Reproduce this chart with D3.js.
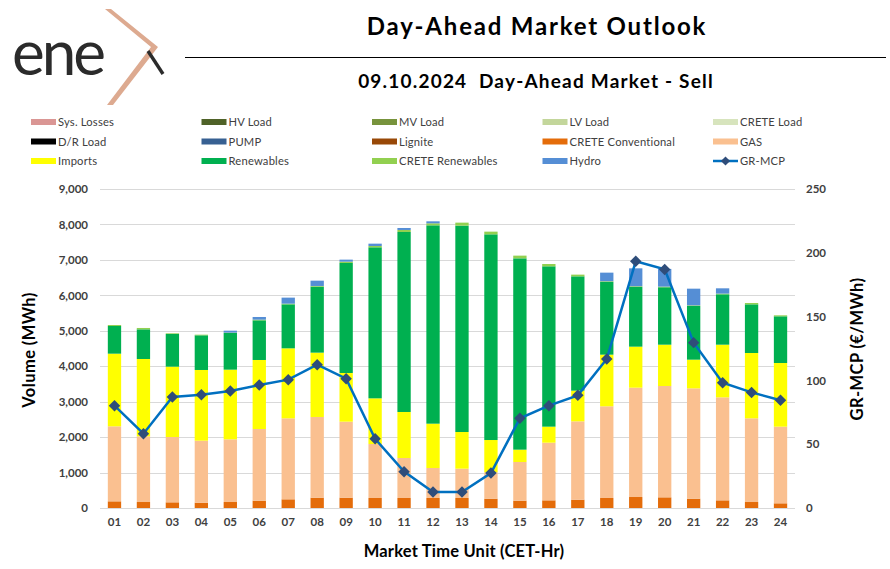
<!DOCTYPE html>
<html>
<head>
<meta charset="utf-8">
<script src="https://cdn.jsdelivr.net/npm/d3@7"></script>
<style>
  html, body { margin: 0; padding: 0; background: #fff; }
  svg { display: block; }
  text { font-family: "Lato", "DejaVu Sans", sans-serif; }
</style>
</head>
<body>
<svg id="chart" width="890" height="569"></svg>
<script>
// ---------- DATA ----------
const hours = ["01","02","03","04","05","06","07","08","09","10","11","12",
               "13","14","15","16","17","18","19","20","21","22","23","24"];
const creteConventional = [188,169,160,150,169,207,245,292,292,282,282,282,
                           282,263,207,216,235,282,310,301,263,216,169,132];
const gas        = [2116,1853,1843,1750,1768,2022,2285,2276,2144,1524,1129,847,
                    828,743,1091,1627,2210,2587,3085,3141,3113,2906,2361,2163];
const imports    = [2050,2182,1985,1994,1966,1947,1975,1815,1373,1288,1298,1250,
                    1034,912,348,452,866,1457,1157,1166,809,1486,1843,1796];
const renewables = [781,837,921,978,1035,1119,1241,1862,3104,4261,5078,5596,
                    5822,5803,5398,4524,3225,2051,1684,1620,1514,1421,1373,1317];
const creteRenewables = [28,38,19,18,10,19,19,19,37,37,57,57,
                         85,76,76,65,48,20,20,18,18,20,38,28];
const hydro      = [0,0,0,0,55,75,170,150,57,66,56,56,
                    0,0,0,0,0,243,506,500,471,149,0,0];
const grMcp      = [80.2,58.2,87.0,88.8,91.7,96.4,100.6,112.3,101.3,54.3,28.5,12.5,
                    12.5,27.4,70.3,80.2,88.3,116.8,193.3,187.0,129.6,98.2,90.6,84.4];
const volumeTicks = [0,1000,2000,3000,4000,5000,6000,7000,8000,9000];
const priceTicks  = [0,50,100,150,200,250];
const legendLabels = ["Sys. Losses","HV Load","MV Load","LV Load","CRETE Load",
                      "D/R Load","PUMP","Lignite","CRETE Conventional","GAS",
                      "Imports","Renewables","CRETE Renewables","Hydro","GR-MCP"];
const legendColors = ["#DA9694","#4F6228","#77933C","#C3D69B","#D7E4BD",
                      "#000000","#376092","#984807","#E46C0A","#FAC090",
                      "#FFFF00","#00B050","#92D050","#558ED5","#0070C0"];

// ---------- SETUP ----------
const svg = d3.select("#chart");
const textCol = "#404040";
const markerCol = "#2F4D7A";

// Logo
const logo = svg.append("g");
logo.append("text").attr("x", 12).attr("y", 75)
  .attr("font-family", "'Lato', sans-serif").attr("font-weight", 400)
  .attr("font-size", 62).attr("fill", "#2b2b2b").attr("letter-spacing", -3)
  .text("ene");
logo.append("path")
  .attr("d", "M105,9 L111,9 L158,47 L113,105 L107,105 L151,47 Z")
  .attr("fill", "#DDAA90");
logo.append("line").attr("x1", 148).attr("y1", 51).attr("x2", 163).attr("y2", 74)
  .attr("stroke", "#2b2b2b").attr("stroke-width", 3.4);

// Titles
svg.append("text").attr("x", 537).attr("y", 35).attr("text-anchor", "middle")
  .attr("font-size", 24).attr("font-weight", 700).attr("fill", "#000")
  .attr("letter-spacing", 1.8)
  .text("Day-Ahead Market Outlook");
svg.append("line").attr("x1", 185).attr("x2", 886).attr("y1", 57.5).attr("y2", 57.5)
  .attr("stroke", "#000").attr("stroke-width", 1.2);
svg.append("text").attr("x", 536).attr("y", 88).attr("text-anchor", "middle")
  .attr("font-size", 19).attr("font-weight", 700).attr("fill", "#000")
  .attr("letter-spacing", 1.2).attr("xml:space", "preserve")
  .text("09.10.2024  Day-Ahead Market - Sell");

// Legend
const leg = svg.append("g");
legendLabels.forEach((lab, i) => {
  const col = i % 5, row = Math.floor(i / 5);
  const x = 31 + col * 170.5, y = 122 + row * 19.5;
  if (lab === "GR-MCP") {
    leg.append("line").attr("x1", x).attr("x2", x + 25).attr("y1", y).attr("y2", y)
      .attr("stroke", legendColors[i]).attr("stroke-width", 2.5);
    leg.append("path").attr("d", d3.symbol(d3.symbolSquare, 42)())
      .attr("transform", `translate(${x + 12.5},${y}) rotate(45)`).attr("fill", markerCol);
  } else {
    leg.append("rect").attr("x", x).attr("y", y - 3).attr("width", 25).attr("height", 6)
      .attr("fill", legendColors[i]);
  }
  leg.append("text").attr("x", x + 27).attr("y", y + 4)
    .attr("font-size", 11.2).attr("fill", textCol).attr("letter-spacing", 0.2).text(lab);
});

// Scales
const x = d3.scaleBand().domain(hours).range([100, 795]).paddingInner(0.54).paddingOuter(0.27);
const yL = d3.scaleLinear().domain([0, 9000]).range([508, 189]);
const yR = d3.scaleLinear().domain([0, 250]).range([508, 189]);

// Gridlines
svg.append("g").selectAll("line").data(volumeTicks).join("line")
  .attr("x1", 100).attr("x2", 795)
  .attr("y1", d => Math.round(yL(d)) + 0.5).attr("y2", d => Math.round(yL(d)) + 0.5)
  .attr("stroke", "#D9D9D9").attr("stroke-width", 1);

// Stacked bars
const seriesDefs = [
  {key: "CRETE Conventional", vals: creteConventional, color: "#E46C0A"},
  {key: "GAS", vals: gas, color: "#FAC090"},
  {key: "Imports", vals: imports, color: "#FFFF00"},
  {key: "Renewables", vals: renewables, color: "#00B050"},
  {key: "CRETE Renewables", vals: creteRenewables, color: "#92D050"},
  {key: "Hydro", vals: hydro, color: "#558ED5"}
];
const table = hours.map((h, i) => {
  const o = {hour: h};
  seriesDefs.forEach(s => o[s.key] = s.vals[i]);
  return o;
});
const stacked = d3.stack().keys(seriesDefs.map(s => s.key))(table);
svg.append("g").selectAll("g").data(stacked).join("g")
  .attr("fill", (d, i) => seriesDefs[i].color)
  .selectAll("rect").data(d => d).join("rect")
  .attr("x", d => x(d.data.hour))
  .attr("width", x.bandwidth())
  .attr("y", d => yL(d[1]))
  .attr("height", d => yL(d[0]) - yL(d[1]));

// Line
const cx = h => x(h) + x.bandwidth() / 2;
svg.append("path").datum(grMcp)
  .attr("d", d3.line().x((d, i) => cx(hours[i])).y(d => yR(d)))
  .attr("fill", "none").attr("stroke", "#0070C0").attr("stroke-width", 2.5);
svg.append("g").selectAll("path").data(grMcp).join("path")
  .attr("d", d3.symbol(d3.symbolSquare, 66)())
  .attr("transform", (d, i) => `translate(${cx(hours[i])},${yR(d)}) rotate(45)`)
  .attr("fill", markerCol);

// Axes
const fmt = d3.format(",");
const axL = svg.append("g").attr("transform", "translate(100,0)")
  .call(d3.axisLeft(yL).tickValues(volumeTicks).tickFormat(fmt).tickSize(0).tickPadding(12));
const axR = svg.append("g").attr("transform", "translate(795,0)")
  .call(d3.axisRight(yR).tickValues(priceTicks).tickSize(0).tickPadding(11));
const axB = svg.append("g").attr("transform", "translate(0,508)")
  .call(d3.axisBottom(x).tickSize(0).tickPadding(10));
[axL, axR, axB].forEach(a => {
  a.select(".domain").remove();
  a.selectAll("text").attr("font-family", "'Lato', sans-serif")
    .attr("font-size", 11.5).attr("font-weight", 700).attr("fill", textCol);
});

// Axis titles
svg.append("text").attr("transform", "translate(35,350) rotate(-90)")
  .attr("text-anchor", "middle").attr("font-size", 16.5).attr("font-weight", 700)
  .attr("fill", "#000").attr("letter-spacing", 0.4).text("Volume (MWh)");
svg.append("text").attr("transform", "translate(863,349) rotate(-90)")
  .attr("text-anchor", "middle").attr("font-size", 16.5).attr("font-weight", 700)
  .attr("fill", "#000").attr("letter-spacing", 0.4).text("GR-MCP (€/MWh)");
svg.append("text").attr("x", 464).attr("y", 557)
  .attr("text-anchor", "middle").attr("font-size", 16.5).attr("font-weight", 700)
  .attr("fill", "#000").attr("letter-spacing", 0.2).text("Market Time Unit (CET-Hr)");
</script>
</body>
</html>
